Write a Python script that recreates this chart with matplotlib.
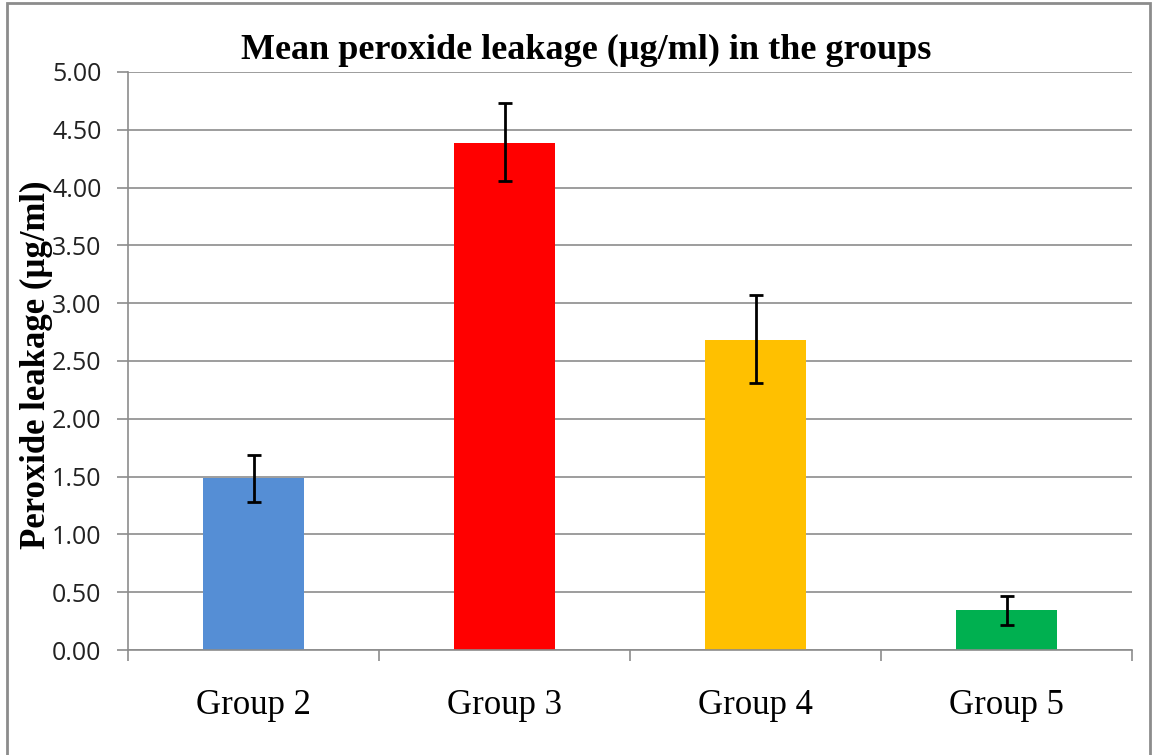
import numpy as np
import matplotlib.pyplot as plt
from matplotlib.patches import Rectangle

groups = ['Group 2', 'Group 3', 'Group 4', 'Group 5']
means = [1.49, 4.39, 2.68, 0.35]
err_upper = [1.69, 4.73, 3.07, 0.47]
err_lower = [1.28, 4.06, 2.31, 0.22]
colors = ['#558ED5', '#FF0000', '#FFC000', '#00B050']
yticks = [0.0, 0.5, 1.0, 1.5, 2.0, 2.5, 3.0, 3.5, 4.0, 4.5, 5.0]

serif = ['Liberation Serif', 'DejaVu Serif']
sans = ['Open Sans', 'DejaVu Sans']

fig = plt.figure(figsize=(11.55, 7.55), dpi=100)
ax = fig.add_axes([128 / 1155, 1 - 650 / 755, (1132 - 128) / 1155, (650 - 72) / 755])

x = np.arange(len(groups))
means_arr = np.array(means)
yerr = np.array([means_arr - np.array(err_lower), np.array(err_upper) - means_arr])

ax.bar(x, means, width=0.4, color=colors, zorder=2)
ax.errorbar(x, means, yerr=yerr, fmt='none', ecolor='black', elinewidth=2.0,
            capsize=5, capthick=2.0, zorder=3)

ax.set_xlim(-0.5, 3.5)
ax.set_ylim(0, 5)
ax.set_yticks(yticks)
ax.set_yticklabels([f'{v:.2f}' for v in yticks], fontsize=18, family=sans, color='#222222')
ax.yaxis.grid(True, color='#8c8c8c', linewidth=1.2, zorder=0)
ax.set_axisbelow(True)

# category ticks sit between groups
ax.set_xticks(np.arange(-0.5, 4.0, 1.0))
ax.set_xticklabels([])
ax.set_xticks(x, minor=True)
ax.set_xticklabels(groups, minor=True, fontsize=25, family=serif)
ax.tick_params(axis='x', which='minor', length=0, pad=28)
ax.tick_params(axis='x', which='major', length=8, color='#8c8c8c', width=1.2)
ax.tick_params(axis='y', length=8, color='#8c8c8c', width=1.2, pad=11)

for s in ['top', 'right']:
    ax.spines[s].set_visible(False)
for s in ['left', 'bottom']:
    ax.spines[s].set_color('#8c8c8c')
    ax.spines[s].set_linewidth(1.2)

fig.text(586 / 1155, 1 - 50 / 755, 'Mean peroxide leakage (µg/ml) in the groups',
         ha='center', va='center', fontsize=26, fontweight='bold', family=serif)
fig.text(36 / 1155, 1 - 365 / 755, 'Peroxide leakage (µg/ml)', rotation=90,
         ha='center', va='center', fontsize=25, fontweight='bold', family=serif)

fig.patches.append(Rectangle((7 / 1155, -0.01), (1150 - 7) / 1155, 1 - 3 / 755 + 0.01,
                             transform=fig.transFigure, fill=False,
                             edgecolor='#8c8c8c', linewidth=2))

fig.savefig('out.png', dpi=100)
